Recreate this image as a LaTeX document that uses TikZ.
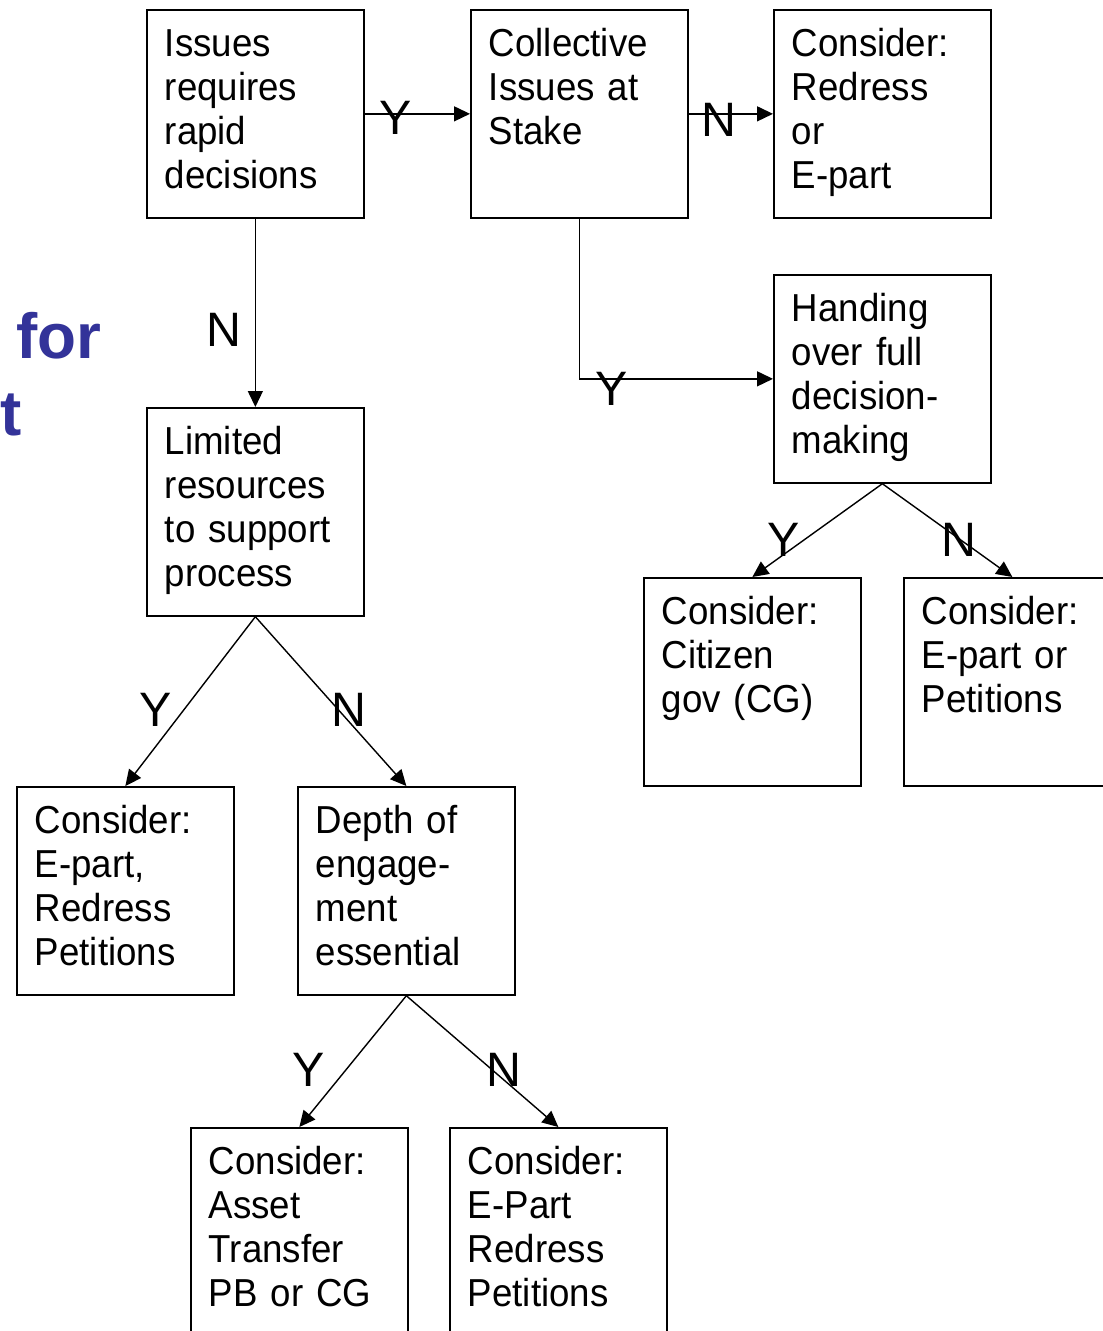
\documentclass[tikz,border=0pt]{standalone}
\usepackage{fontspec}
\setmainfont{Liberation Sans}
\newfontfamily\boxfont[FakeStretch=0.94]{Liberation Sans}
\usetikzlibrary{arrows.meta}
\definecolor{slideblue}{RGB}{51,51,153}

\begin{document}
\begin{tikzpicture}[x=0.02cm,y=-0.02cm,
    decision/.style={draw,line width=1pt,anchor=north west,align=left,
      text width=3.62cm,inner xsep=0.36cm,inner ysep=0pt,
      text height=0.94cm,text depth=3.22cm,
      font=\boxfont\fontsize{22.2}{24.95}\selectfont},
    yn/.style={inner sep=0pt,font=\fontsize{27.5}{30}\selectfont},
    arr/.style={line width=0.8pt,-{Triangle[length=0.32cm,width=0.3cm]}}]
    \path[use as bounding box] (0,0) rectangle (1102,1331);
    % Title fragment.
    \node[anchor=base west,inner sep=0pt,text=slideblue,font=\bfseries\fontsize{36.3}{43}\selectfont] (for) at (16,358) {for};
    \node[anchor=base west,inner sep=0pt,text=slideblue,font=\bfseries\fontsize{36.3}{43}\selectfont] (tee) at (0,435) {t};
    % Boxes.
    \node[decision] (issues) at (146,9) {Issues\\requires\\rapid\\decisions};
    \node[decision] (collective) at (470,9) {Collective\\Issues at\\Stake};
    \node[decision] (redress) at (773,9) {Consider:\\Redress\\or\\E-part};
    \node[decision] (handing) at (773,274) {Handing\\over full\\decision-\\making};
    \node[decision] (limited) at (146,407) {Limited\\resources\\to support\\process};
    \node[decision] (citizen) at (643,577) {Consider:\\Citizen\\gov (CG)};
    \node[decision] (epetitions) at (903,577) {Consider:\\E-part or\\Petitions};
    \node[decision] (eredress) at (16,786) {Consider:\\E-part,\\Redress\\Petitions};
    \node[decision] (depth) at (297,786) {Depth of\\engage-\\ment\\essential};
    \node[decision] (asset) at (190,1127) {Consider:\\Asset\\Transfer\\PB or CG};
    \node[decision] (epart) at (449,1127) {Consider:\\E-Part\\Redress\\Petitions};
    % Arrows.
    \draw[arr] (issues.east) -- (collective.west);
    \draw[arr] (collective.east) -- (redress.west);
    \draw[arr] (issues.south) -- (limited.north);
    \draw[arr] (collective.south) |- (handing.west);
    \draw[arr] (handing.south) -- (citizen.north);
    \draw[arr] (handing.south) -- (epetitions.north);
    \draw[arr] (limited.south) -- (eredress.north);
    \draw[arr] (limited.south) -- (depth.north);
    \draw[arr] (depth.south) -- (asset.north);
    \draw[arr] (depth.south) -- (epart.north);
    % Y/N labels.
    \node[yn] (y1) at (396,118) {Y};
    \node[yn] (n1) at (719,120) {N};
    \node[yn] (n2) at (224,330) {N};
    \node[yn] (y2) at (612,389) {Y};
    \node[yn] (y3) at (784,540) {Y};
    \node[yn] (n3) at (959,540) {N};
    \node[yn] (y4) at (156,710) {Y};
    \node[yn] (n4) at (349,710) {N};
    \node[yn] (y5) at (309,1070) {Y};
    \node[yn] (n5) at (504,1070) {N};
\end{tikzpicture}
\end{document}
